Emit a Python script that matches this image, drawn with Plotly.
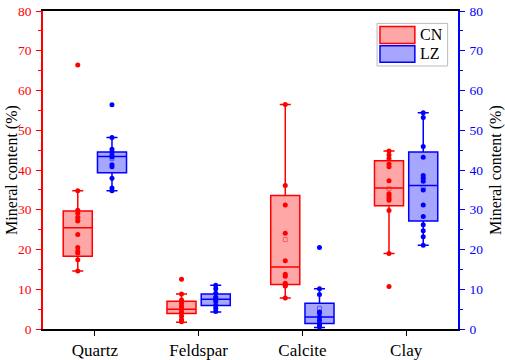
import plotly.graph_objects as go

categories = ["Quartz", "Feldspar", "Calcite", "Clay"]

# CN sample points per mineral
cn_quartz = [66.4, 34.8, 29.9, 29.1, 28.1, 27.2, 23.8, 20.5, 19.6, 19.1, 17.4, 14.6]
cn_feldspar = [12.5, 8.8, 7.3, 6.5, 5.6, 4.8, 4.1, 3.3, 2.4, 1.8]
cn_calcite = [56.5, 36.1, 31.2, 24.1, 17.2, 13.8, 13.3, 11.5, 11.0, 10.8, 7.8]
cn_clay = [44.8, 43.8, 42.9, 41.5, 40.8, 37.3, 34.0, 33.5, 32.9, 32.4, 29.8, 19.0, 10.7]

# LZ sample points per mineral
lz_quartz = [56.4, 48.2, 45.2, 44.5, 43.8, 43.3, 41.3, 40.8, 37.9, 35.5, 34.8]
lz_feldspar = [11.0, 10.1, 9.0, 8.0, 7.5, 6.9, 6.0, 5.2, 4.4]
lz_calcite = [20.5, 10.1, 8.7, 4.3, 4.0, 3.0, 2.2, 1.4, 0.9, 0.5]
lz_clay = [54.4, 53.2, 45.9, 43.2, 38.6, 37.9, 37.2, 35.0, 31.2, 28.3, 26.2, 24.7, 23.2, 21.1]

# box statistics
cn_q1 = [18.3, 3.9, 11.2, 31.0]
cn_median = [25.5, 5.0, 15.6, 35.5]
cn_q3 = [29.7, 7.0, 33.6, 42.3]
cn_lower = [14.6, 1.7, 7.8, 19.0]
cn_upper = [34.8, 8.8, 56.5, 44.8]
cn_mean = [27.5, 5.7, 22.5, 35.3]

lz_q1 = [39.3, 5.9, 1.4, 27.2]
lz_median = [43.4, 7.5, 3.0, 36.1]
lz_q3 = [44.5, 8.8, 6.5, 44.5]
lz_lower = [34.8, 4.3, 0.4, 21.1]
lz_upper = [48.2, 11.0, 10.1, 54.4]
lz_mean = [42.9, 7.6, 5.2, 35.6]

cn_points = [cn_quartz, cn_feldspar, cn_calcite, cn_clay]
lz_points = [lz_quartz, lz_feldspar, lz_calcite, lz_clay]

axis_title = "Mineral content (%)"

RED = "#FF0000"
BLUE = "#0000FF"
RED_FILL = "rgba(255,0,0,0.35)"
BLUE_FILL = "rgba(0,0,255,0.35)"
FONT = "Liberation Serif, Times New Roman, serif"
OFF = 0.165
BW = 0.28

cat_idx = list(range(len(categories)))
cn_x = [i - OFF for i in cat_idx]
lz_x = [i + OFF for i in cat_idx]

fig = go.Figure()

def add_group(xpos, q1, med, q3, lo, hi, mean, pts, color, fill, yax):
    fig.add_trace(go.Box(
        x=xpos, q1=q1, median=med, q3=q3, lowerfence=lo, upperfence=hi,
        width=BW, whiskerwidth=0.38, boxpoints=False, orientation="v",
        line=dict(color=color, width=1.5), fillcolor=fill,
        showlegend=False, yaxis=yax, hoverinfo="skip"))
    fig.add_trace(go.Scatter(
        x=xpos, y=mean, mode="markers", yaxis=yax, showlegend=False,
        marker=dict(symbol="square-open", size=4, color=color, opacity=0.45,
                    line=dict(width=1)), hoverinfo="skip"))
    xs, ys = [], []
    for xp, p in zip(xpos, pts):
        xs += [xp] * len(p)
        ys += p
    fig.add_trace(go.Scatter(
        x=xs, y=ys, mode="markers", yaxis=yax, showlegend=False,
        marker=dict(size=5, color=color), hoverinfo="skip"))

add_group(cn_x, cn_q1, cn_median, cn_q3, cn_lower, cn_upper, cn_mean, cn_points, RED, RED_FILL, "y")
add_group(lz_x, lz_q1, lz_median, lz_q3, lz_lower, lz_upper, lz_mean, lz_points, BLUE, BLUE_FILL, "y2")

# custom legend (paper coordinates)
fig.add_shape(type="rect", xref="paper", yref="paper", x0=0.805, x1=0.975, y0=0.827, y1=0.961,
              line=dict(color="#BBBBBB", width=1), fillcolor="white", layer="above")
fig.add_shape(type="rect", xref="paper", yref="paper", x0=0.812, x1=0.896, y0=0.898, y1=0.951,
              line=dict(color=RED, width=1.5), fillcolor=RED_FILL, layer="above")
fig.add_shape(type="rect", xref="paper", yref="paper", x0=0.812, x1=0.896, y0=0.839, y1=0.891,
              line=dict(color=BLUE, width=1.5), fillcolor=BLUE_FILL, layer="above")
fig.add_annotation(text="CN", xref="paper", yref="paper", x=0.904, y=0.925, xanchor="left",
                   yanchor="middle", showarrow=False, font=dict(family=FONT, size=16, color="black"))
fig.add_annotation(text="LZ", xref="paper", yref="paper", x=0.904, y=0.865, xanchor="left",
                   yanchor="middle", showarrow=False, font=dict(family=FONT, size=16, color="black"))

# axis titles as rotated annotations
fig.add_annotation(text=axis_title, xref="paper", yref="paper", x=-0.075, y=0.5,
                   xanchor="center", yanchor="middle", textangle=-90, showarrow=False,
                   font=dict(family=FONT, size=16, color="black"))
fig.add_annotation(text=axis_title, xref="paper", yref="paper", x=1.0916, y=0.5,
                   xanchor="center", yanchor="middle", textangle=-90, showarrow=False,
                   font=dict(family=FONT, size=16, color="black"))

yaxis_common = dict(range=[0, 80], dtick=10, showline=True, linewidth=1.5, ticks="outside",
                    ticklen=5, tickwidth=1, showgrid=False, zeroline=False, automargin=False,
                    ticklabelstandoff=2)

fig.update_layout(
    width=505, height=360, autosize=False,
    margin=dict(l=43, r=47, t=11, b=31, pad=0),
    paper_bgcolor="white", plot_bgcolor="white",
    font=dict(family=FONT, color="black"),
    boxmode="overlay",
    xaxis=dict(range=[-0.5, 3.5], tickvals=cat_idx, ticktext=categories, showline=True,
               linecolor="black", linewidth=1.5, mirror=True, ticks="outside", ticklen=5,
               tickcolor="black", showgrid=False, zeroline=False,
               tickfont=dict(family=FONT, size=17, color="black"), automargin=False),
    yaxis=dict(**yaxis_common, linecolor=RED, tickcolor=RED,
               tickfont=dict(family=FONT, size=13.5, color=RED),
               minor=dict(dtick=5, ticks="outside", ticklen=3, tickcolor=RED, showgrid=False)),
    yaxis2=dict(**yaxis_common, overlaying="y", side="right", linecolor=BLUE, tickcolor=BLUE,
                tickfont=dict(family=FONT, size=13.5, color=BLUE),
                minor=dict(dtick=5, ticks="outside", ticklen=3, tickcolor=BLUE, showgrid=False)),
)

fig.write_html("out.html", config={"displayModeBar": False},
               post_script="document.body.style.margin='0';")
